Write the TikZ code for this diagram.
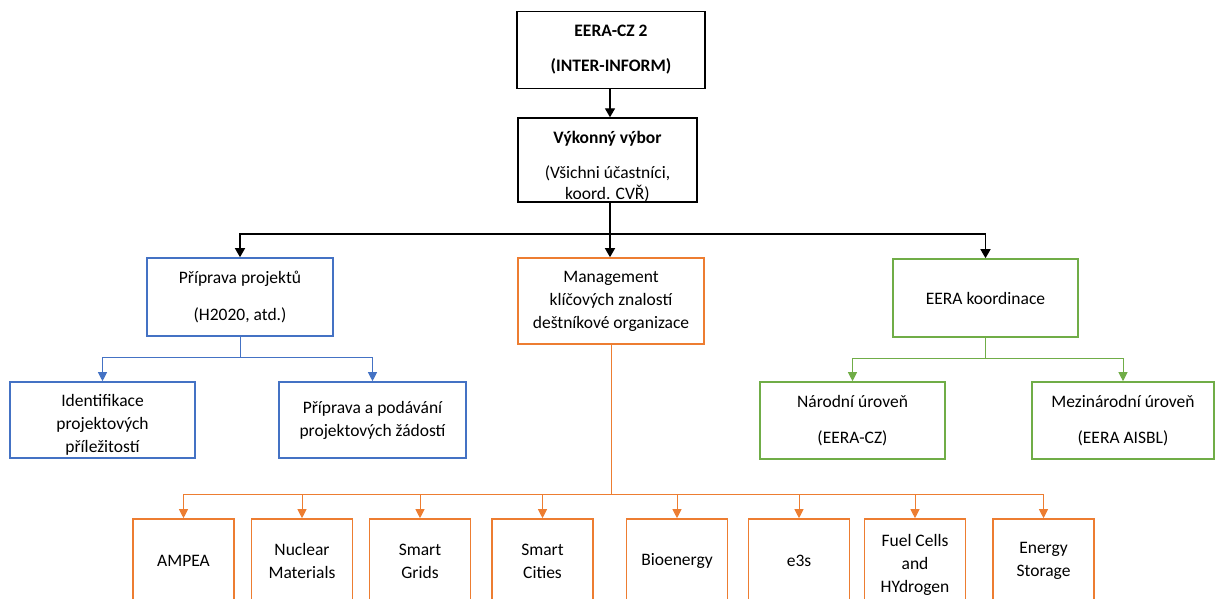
\documentclass[tikz,border=0pt]{standalone}
\usepackage{fontspec}
\setmainfont{Carlito}
\usetikzlibrary{arrows.meta}
\definecolor{cblue}{HTML}{4472C4}
\definecolor{corange}{HTML}{ED7D31}
\definecolor{cgreen}{HTML}{70AD47}
\begin{document}
\begin{tikzpicture}[x=1pt,y=-1pt,
  txt/.style={align=center, inner sep=0pt, font=\fontsize{17.5}{23}\selectfont},
  box/.style={txt, draw, line width=1.6pt},
  kbox/.style={box, draw=black, line width=1.4pt},
  bbox/.style={box, draw=cblue},
  obox/.style={box, draw=corange},
  gbox/.style={box, draw=cgreen},
  leaf/.style={obox, minimum width=101pt, minimum height=84pt},
  karr/.style={draw=black, line width=1.4pt, -{Triangle[width=10pt,length=9pt]}},
  kconn/.style={draw=black, line width=1.4pt},
  barr/.style={draw=cblue, line width=1pt, -{Triangle[width=9pt,length=9pt]}},
  bconn/.style={draw=cblue, line width=1pt},
  oarr/.style={draw=corange, line width=1pt, -{Triangle[width=9pt,length=9pt]}},
  oconn/.style={draw=corange, line width=1pt},
  garr/.style={draw=cgreen, line width=1pt, -{Triangle[width=9pt,length=9pt]}},
  gconn/.style={draw=cgreen, line width=1pt}]
\useasboundingbox (0,0) rectangle (1215,599);
\clip (0,0) rectangle (1215,599);

% top level
\node[kbox, minimum width=188pt, minimum height=77pt] (top) at (611,50)
  {\textbf{EERA-CZ 2}\\[12pt]\textbf{(INTER-INFORM)}};
\node[kbox, minimum width=179pt, minimum height=84pt] (vyk) at (607.5,160) {};
\node[txt] (vykt) at (607.5,166.5)
  {\textbf{Výkonný výbor}\\[12pt](Všichni účastníci,\\[-2pt]koord. CVŘ)};

% second level
\node[bbox, minimum width=186pt, minimum height=78pt] (pp) at (240,297)
  {Příprava projektů\\[14pt](H2020, atd.)};
\node[obox, minimum width=186pt, minimum height=86pt] (mg) at (611,301)
  {Management\\klíčových znalostí\\deštníkové organizace};
\node[gbox, minimum width=185pt, minimum height=78pt] (ek) at (985.5,298)
  {EERA koordinace};

% third level
\node[bbox, minimum width=185pt, minimum height=76pt] (id) at (102.5,420) {};
\node[txt] (idt) at (102.5,425)
  {Identifikace\\projektových\\příležitostí};
\node[bbox, minimum width=187pt, minimum height=76pt] (pa) at (372.5,420)
  {Příprava a podávání\\projektových žádostí};
\node[gbox, minimum width=185pt, minimum height=77pt] (na) at (852.5,420.5)
  {Národní úroveň\\[13pt](EERA-CZ)};
\node[gbox, minimum width=182pt, minimum height=77pt] (me) at (1123,420.5)
  {Mezinárodní úroveň\\[13pt](EERA AISBL)};

% bottom level
\node[leaf] (l1) at (183.5,561) {AMPEA};
\node[leaf] (l2) at (302,561) {Nuclear\\Materials};
\node[leaf] (l3) at (420,561) {Smart\\Grids};
\node[leaf] (l4) at (542.5,561) {Smart\\Cities};
\node[leaf] (l5) at (677,561) {Bioenergy};
\node[leaf] (l6) at (799,561) {e3s};
\node[leaf] (l7) at (915,561) {};
\node[txt] (l7t) at (915,565) {Fuel Cells\\and\\HYdrogen};
\node[leaf] (l8) at (1043.5,561) {Energy\\Storage};

% black connectors
\coordinate (bb) at (610,234);
\draw[karr] (top.south -| bb) -- (bb |- vyk.north);
\draw[kconn] (vyk.south -| bb) -- (bb);
\draw[karr] (bb) -| (pp.north);
\draw[karr] (bb) -| (ek.north);
\draw[karr] (bb) -- (bb |- mg.north);

% blue connectors
\coordinate (bj) at (240,357);
\draw[bconn] (pp.south) -- (bj);
\draw[barr] (bj) -| (id.north);
\draw[barr] (bj) -| (pa.north);

% green connectors
\coordinate (gj) at (985,358);
\draw[gconn] (ek.south -| gj) -- (gj);
\draw[garr] (gj) -| (na.north);
\draw[garr] (gj) -| (me.north);

% orange connectors
\coordinate (oj) at (611,494);
\draw[oconn] (mg.south) -- (oj);
\foreach \n in {l1,l2,l3,l4,l5,l6,l7,l8}
  \draw[oarr] (oj) -| (\n.north);
\end{tikzpicture}
\end{document}
